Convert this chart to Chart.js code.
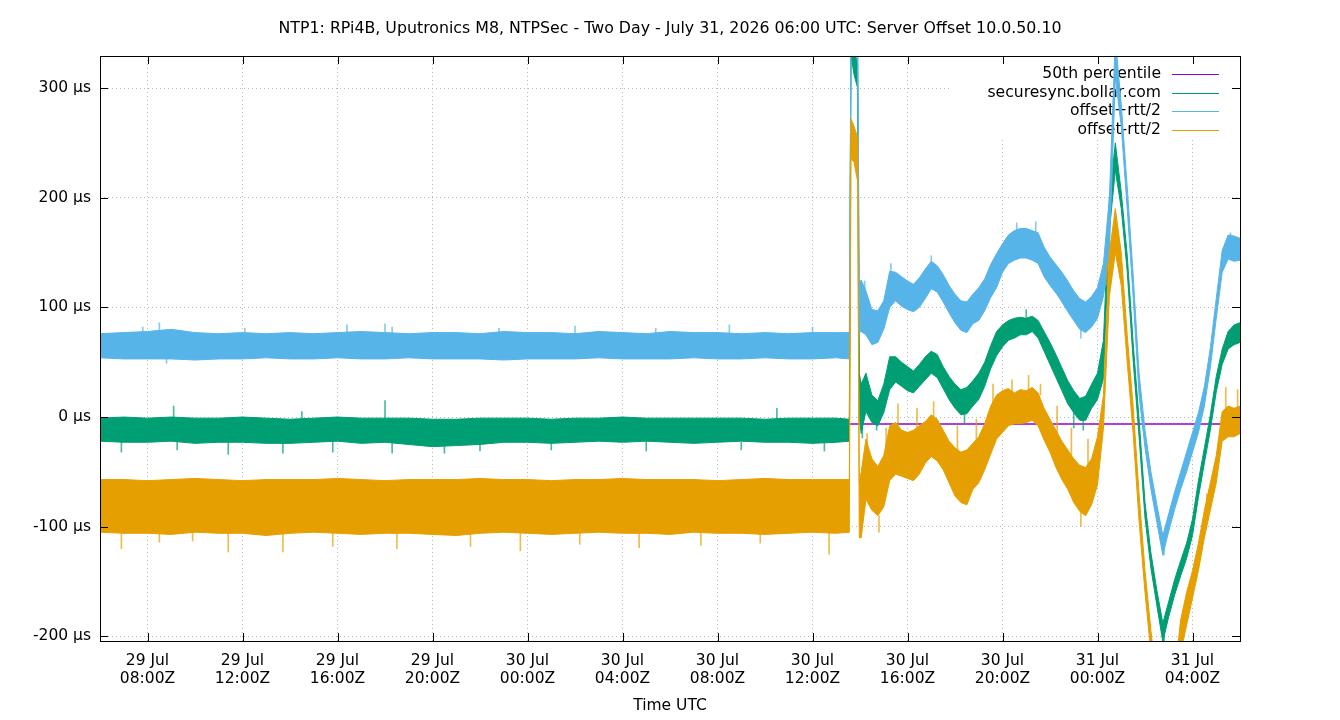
<!DOCTYPE html>
<html>
<head>
<meta charset="utf-8">
<script src="https://cdn.jsdelivr.net/npm/chart.js"></script>
<style>
  body { margin: 0; background: #fff; }
  #wrap { width: 1340px; height: 720px; }
</style>
</head>
<body>
<div id="wrap"><canvas id="offsetChart" width="1340" height="720"></canvas></div>

<script>

const titleText = 'NTP1: RPi4B, Uputronics M8, NTPSec - Two Day - July 31, 2026 06:00 UTC: Server Offset 10.0.50.10';

// hours since 29 Jul 06:00Z
const hours = [
  0, 1, 2, 3, 4, 5, 6, 7, 8, 9, 10, 11, 12, 13, 14, 15,
  16, 17, 18, 19, 20, 21, 22, 23, 24, 25, 26, 27, 28, 29, 30, 31,
  31.55, 31.62, 31.75, 31.9, 31.97, 32.05,
  32.25, 32.5, 32.75, 33, 33.25, 33.5, 33.75, 34,
  34.25, 34.5, 34.75, 35, 35.25, 35.5, 35.75, 36,
  36.25, 36.5, 36.75, 37, 37.25, 37.5, 37.75, 38,
  38.25, 38.5, 38.75, 39, 39.25, 39.5, 39.75, 40,
  40.25, 40.5, 40.75, 41, 41.25, 41.5, 41.75, 42,
  42.25, 42.5, 42.75, 43, 43.25, 43.5, 43.75, 44,
  44.25, 44.5, 44.75, 45, 45.25, 45.5, 45.75, 46,
  46.25, 46.5, 46.75, 47, 47.25, 47.5, 47.75, 48
];

// offset+rtt/2 band (µs)
const plusHigh = [
  76, 77, 78, 80, 77, 76, 77, 76, 77, 76, 77, 78, 77, 76, 77, 77,
  76, 78, 77, 77, 76, 78, 77, 76, 78, 77, 77, 76, 77, 76, 77, 77,
  77, 360, 360, 360, 122, 125,
  115, 98, 97, 106, 133, 132, 128, 124,
  121, 127, 135, 142, 138, 130, 120, 112,
  106, 105, 112, 118, 126, 139, 149, 158,
  166, 170, 172, 172, 170, 168, 155, 146,
  139, 132, 124, 115, 108, 105, 110, 118,
  140, 200, 345, 285, 210, 130, 40, -12,
  -50, -80, -108, -88, -68, -50, -32, -14,
  4, 28, 63, 108, 152, 166, 165, 163
];
const plusLow = [
  54, 53, 53, 53, 52, 53, 53, 54, 53, 53, 54, 53, 53, 54, 53, 53,
  53, 52, 53, 53, 53, 54, 53, 53, 53, 54, 53, 53, 54, 53, 53, 54,
  53, 340, 340, 340, 77, 78,
  75, 66, 68, 80, 100, 106, 101, 98,
  96, 100, 108, 117, 114, 105, 95, 86,
  79, 77, 85, 88, 97, 109, 118, 132,
  140, 143, 145, 145, 143, 140, 128, 120,
  113, 105, 96, 88, 80, 77, 82, 90,
  110, 150, 310, 265, 190, 110, 20, -28,
  -66, -96, -126, -104, -84, -66, -50, -32,
  -14, 10, 45, 90, 132, 144, 142, 143
];
const plusSpikeHours = [1.8, 2.5, 2.8, 6.1, 10.4, 12.0, 12.3, 16.8, 20.0, 23.4, 26.5, 30.0, 32.2, 33.3, 35.0, 38.6, 39.4, 41.3, 44.8, 47.6];
const plusSpikeFrom = [76, 76, 54, 76, 76, 76, 76, 76, 76, 76, 76, 76, 110, 128, 140, 168, 166, 80, -120, 160];
const plusSpikeTo = [82, 86, 49, 81, 84, 85, 82, 81, 83, 81, 84, 82, 124, 140, 147, 177, 178, 72, -126, 168];

// securesync.bollar.com band
const syncHigh = [
  -1, 0, -1, 0, -1, -1, 0, -1, -2, -1, 0, -1, -1, -1, -2, -2,
  -1, -1, -1, -2, -1, -1, 0, -1, -1, -1, -1, -1, -2, -1, -1, -1,
  -2, 350, 335, 322, 40, 30,
  40, 20, 15, 30, 55, 55, 50, 46,
  42, 48, 55, 60, 57, 46, 37, 30,
  25, 27, 33, 40, 50, 65, 78, 84,
  88, 90, 91, 90, 92, 88, 78, 68,
  57, 45, 33, 24, 17, 19, 30, 40,
  70, 200, 250, 205, 148, 68, -2, -78,
  -124, -158, -188, -168, -148, -131, -115, -93,
  -58, -28, 2, 37, 62, 78, 84, 86
];
const syncLow = [
  -22, -23, -23, -22, -24, -23, -23, -24, -24, -23, -22, -24, -23, -25, -27, -26,
  -25, -23, -23, -24, -23, -22, -23, -22, -23, -24, -23, -22, -23, -23, -24, -23,
  -22, 330, 312, 300, 0, -15,
  5, -5, -8, 4, 25, 32, 28, 24,
  22, 28, 34, 40, 36, 26, 16, 8,
  2, 3, 10, 16, 28, 44, 56, 64,
  70, 72, 75, 75, 78, 72, 60, 48,
  36, 24, 12, 4, -3, -3, 8, 16,
  35, 170, 225, 190, 133, 52, -18, -92,
  -138, -172, -205, -182, -162, -145, -129, -108,
  -73, -42, -12, 23, 48, 62, 66, 68
];
const syncSpikeHours = [0.9, 3.1, 3.25, 5.4, 7.7, 8.5, 9.8, 12.0, 12.3, 14.5, 16.0, 19.0, 23.0, 27.0, 28.5, 30.5, 32.1, 32.7, 36.4, 39.0, 41.0, 41.4, 44.8];
const syncSpikeFrom = [-22, -1, -22, -23, -24, -1, -23, -1, -23, -26, -25, -23, -22, -23, -2, -23, -10, -6, 2, 90, 4, -3, -200];
const syncSpikeTo = [-32, 10, -30, -34, -33, 5, -32, 15, -33, -33, -31, -30, -31, -30, 8, -31, -19, -12, -6, 98, -10, -12, -208];

// offset-rtt/2 band
const minusHigh = [
  -57, -57, -58, -57, -56, -57, -58, -57, -57, -57, -56, -57, -58, -57, -57, -57,
  -56, -57, -57, -58, -57, -57, -56, -57, -57, -57, -58, -57, -56, -57, -57, -57,
  -57, 272, 265, 255, -60, -50,
  -20, -38, -45, -35, -8, -5, -12, -14,
  -12, -8, -4, 2, -2, -12, -22, -28,
  -32, -30, -24, -18, -6, 10, 20, 24,
  26, 22, 25, 24, 27, 22, 8, -2,
  -12, -22, -30, -38, -44, -46, -38, -18,
  20, 150, 190, 150, 75, 10, -70, -140,
  -195, -240, -255, -250, -235, -185, -160, -140,
  -115, -85, -60, -35, 5, 10, 8, 10
];
const minusLow = [
  -105, -106, -106, -107, -105, -106, -106, -108, -106, -105, -106, -107, -106, -106, -107, -108,
  -106, -105, -106, -107, -106, -105, -106, -106, -107, -105, -106, -106, -107, -106, -105, -106,
  -105, 236, 232, 215, -110, -110,
  -75, -85, -90, -82, -58, -52, -54, -56,
  -58, -52, -42, -36, -40, -48, -60, -72,
  -78, -80, -66, -60, -48, -34, -20, -14,
  -8, -6, -6, -5, -3, -8, -21, -32,
  -46, -57, -66, -78, -86, -90, -80, -62,
  -10, 110, 150, 120, 50, -15, -95, -160,
  -215, -260, -275, -270, -255, -215, -190, -165,
  -140, -110, -85, -60, -22, -18, -18, -15
];
const minusSpikeHours = [
  0.9, 2.5, 3.9, 5.4, 7.7, 9.8, 12.5, 15.6, 17.7, 20.2, 22.7, 25.3, 27.8, 30.7,
  32.3, 32.8, 33.1, 33.6, 34.4, 35.1, 36.1, 36.9, 37.6, 38.4, 39.1, 39.6, 40.3, 40.9, 41.3, 41.6, 42.4, 46.6, 47.4, 47.9
];
const minusSpikeFrom = [
  -106, -106, -106, -106, -106, -106, -106, -106, -106, -106, -106, -106, -106, -106,
  -40, -90, -40, -10, -15, 0, -30, -25, 10, 20, 25, 20, -15, -35, -86, -45, 120, -95, 8, 8
];
const minusSpikeTo = [
  -120, -114, -113, -123, -123, -118, -120, -118, -122, -116, -119, -117, -115, -125,
  -15, -105, -10, 12, 8, 14, -8, -2, 30, 34, 38, 30, 10, -10, -100, -20, 140, -70, 27, 25
];

// 50th percentile
const pctHours = [0, 48];
const pctValues = [-6.4, -6.4];

const tickHours = [2, 6, 10, 14, 18, 22, 26, 30, 34, 38, 42, 46];
const tickDays = ['29 Jul', '29 Jul', '29 Jul', '29 Jul', '30 Jul', '30 Jul',
                  '30 Jul', '30 Jul', '30 Jul', '30 Jul', '31 Jul', '31 Jul'];
const tickTimes = ['08:00Z', '12:00Z', '16:00Z', '20:00Z', '00:00Z', '04:00Z',
                   '08:00Z', '12:00Z', '16:00Z', '20:00Z', '00:00Z', '04:00Z'];
const yTicks = [-200, -100, 0, 100, 200, 300];

const keyLabels = ['50th percentile', 'securesync.bollar.com', 'offset+rtt/2', 'offset-rtt/2'];
const colors = { pct: '#9400d3', sync: '#009e73', plus: '#56b4e9', minus: '#e69f00' };
const spikeColors = { sync: 'rgba(0,158,115,0.7)', plus: 'rgba(86,180,233,0.7)', minus: 'rgba(230,159,0,0.7)' };
const keyColors = [colors.pct, colors.sync, colors.plus, colors.minus];

const FONT = 'DejaVu Sans';

function pts(xs, ys) {
  return xs.map((x, i) => ({ x: x, y: ys[i] }));
}

function band(hi, lo, color) {
  return [
    { data: pts(hours, hi), borderColor: color, borderWidth: 1, fill: false },
    { data: pts(hours, lo), borderColor: color, borderWidth: 1, backgroundColor: color, fill: '-1' }
  ];
}

function spikes(ts, from, to, color) {
  return {
    type: 'bar',
    data: ts.map((t, i) => ({ x: t, y: [from[i], to[i]] })),
    backgroundColor: color,
    borderWidth: 0,
    barThickness: 1,
    grouped: false
  };
}

// first dataset ends up on top
const datasets = [
  ...band(minusHigh, minusLow, colors.minus),
  spikes(minusSpikeHours, minusSpikeFrom, minusSpikeTo, spikeColors.minus),
  ...band(plusHigh, plusLow, colors.plus),
  spikes(plusSpikeHours, plusSpikeFrom, plusSpikeTo, spikeColors.plus),
  ...band(syncHigh, syncLow, colors.sync),
  spikes(syncSpikeHours, syncSpikeFrom, syncSpikeTo, spikeColors.sync),
  { data: pts(pctHours, pctValues), borderColor: colors.pct, borderWidth: 1.5, fill: false }
];

const gnuplotFrame = {
  id: 'gnuplotFrame',
  beforeDatasetsDraw(chart) {
    const c = chart.ctx;
    c.save();
    // opaque key, drawn under the data like gnuplot does
    c.fillStyle = '#fff';
    c.fillRect(952, 57, 287, 81);
    c.font = '15.6px "' + FONT + '"';
    c.textAlign = 'right';
    c.textBaseline = 'middle';
    keyLabels.forEach((lab, i) => {
      const y = 74 + i * 18.7;
      c.fillStyle = '#000';
      c.fillText(lab, 1161, y);
      c.strokeStyle = keyColors[i];
      c.lineWidth = 1;
      c.beginPath();
      c.moveTo(1172, Math.round(y) + 0.5);
      c.lineTo(1219, Math.round(y) + 0.5);
      c.stroke();
    });
    c.restore();
  },
  afterDatasetsDraw(chart) {
    const c = chart.ctx;
    const a = chart.chartArea;
    const xs = chart.scales.x, ys = chart.scales.y;
    c.save();
    c.strokeStyle = '#000';
    c.lineWidth = 1;
    c.beginPath();
    tickHours.forEach(h => {
      const x = Math.round(xs.getPixelForValue(h)) + 0.5;
      c.moveTo(x, a.bottom); c.lineTo(x, a.bottom - 8);
      c.moveTo(x, a.top); c.lineTo(x, a.top + 8);
    });
    yTicks.forEach(v => {
      const y = Math.round(ys.getPixelForValue(v)) + 0.5;
      c.moveTo(a.left, y); c.lineTo(a.left + 8, y);
      c.moveTo(a.right, y); c.lineTo(a.right - 8, y);
    });
    c.stroke();
    c.strokeRect(a.left + 0.5, a.top + 0.5, a.right - a.left, a.bottom - a.top);
    c.restore();
  },
  afterDraw(chart) {
    const c = chart.ctx;
    c.save();
    c.fillStyle = '#000';
    c.font = '15.8px "' + FONT + '"';
    c.textAlign = 'center';
    c.textBaseline = 'middle';
    c.fillText(titleText, 670, 29);
    c.restore();
  }
};

const ctx = document.getElementById('offsetChart');

new Chart(ctx, {
  type: 'line',
  data: { datasets: datasets },
  options: {
    responsive: false,
    devicePixelRatio: 1,
    animation: false,
    layout: { padding: { left: 0, right: 100, top: 56, bottom: 0 } },
    elements: { point: { radius: 0 }, line: { tension: 0 } },
    plugins: {
      legend: { display: false },
      tooltip: { enabled: false },
      title: { display: false }
    },
    scales: {
      x: {
        type: 'linear',
        min: 0,
        max: 48,
        offset: false,
        afterFit(s) { s.height = 79; },
        afterBuildTicks(s) { s.ticks = tickHours.map(v => ({ value: v })); },
        grid: { color: '#b8b8b8', drawTicks: false, offset: false },
        border: { display: false, dash: [1, 3] },
        ticks: {
          padding: 11,
          maxRotation: 0,
          autoSkip: false,
          color: '#000',
          font: { family: FONT, size: 15.5, lineHeight: 1.14 },
          callback: (v, i) => [tickDays[i], tickTimes[i]]
        },
        title: {
          display: true,
          text: 'Time UTC',
          color: '#000',
          font: { family: FONT, size: 15.5 },
          padding: { top: 0, bottom: 5 }
        }
      },
      y: {
        type: 'linear',
        min: -204.2,
        max: 329.2,
        afterFit(s) { s.width = 100; },
        afterBuildTicks(s) { s.ticks = yTicks.map(v => ({ value: v })); },
        grid: { color: '#b8b8b8', drawTicks: false },
        border: { display: false, dash: [1, 3] },
        ticks: {
          padding: 9,
          color: '#000',
          font: { family: FONT, size: 15.5 },
          callback: v => v + ' µs'
        }
      }
    }
  },
  plugins: [gnuplotFrame]
});

</script>

</body>
</html>
